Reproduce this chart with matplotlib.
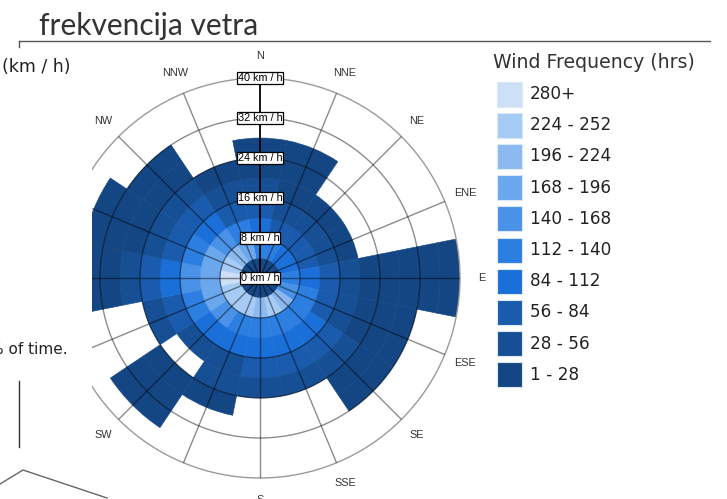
import numpy as np
import matplotlib
matplotlib.use("Agg")
import matplotlib.pyplot as plt
from matplotlib.patches import Rectangle

# ---------------- data ----------------
directions = ["N", "NNE", "NE", "ENE", "E", "ESE", "SE", "SSE",
              "S", "SSW", "SW", "WSW", "W", "WNW", "NW", "NNW"]
speed_edges = [0, 4, 8, 12, 16, 20, 24, 28, 32, 36, 40]   # km/h
ring_ticks = [0, 8, 16, 24, 32, 40]

# hours per speed bin (0-4, 4-8, ..., 36-40) for each direction
hrs_N   = [14, 126,  98,  70,  42,  14,  14,   0,   0,   0]
hrs_NNE = [14, 126,  70,  42,  14,  14,  14,   0,   0,   0]
hrs_NE  = [14,  98,  70,  42,  14,   0,   0,   0,   0,   0]
hrs_ENE = [14,  98,  70,  42,  14,   0,   0,   0,   0,   0]
hrs_E   = [14, 126,  98,  70,  42,  14,  14,  14,  14,  14]
hrs_ESE = [14, 154, 126,  70,  42,  14,  14,  14,   0,   0]
hrs_SE  = [14, 210, 126,  98,  70,  42,  14,  14,   0,   0]
hrs_SSE = [14, 238, 126,  98,  70,  42,   0,   0,   0,   0]
hrs_S   = [14, 210, 126,  98,  70,  42,   0,   0,   0,   0]
hrs_SSW = [14, 238, 126,  98,  42,  42,  14,   0,   0,   0]
hrs_SW  = [14, 238, 154,  98,  42,   0,  14,  14,  14,   0]
hrs_WSW = [14, 238, 182, 126,  70,  42,   0,   0,   0,   0]
hrs_W   = [14, 300, 182, 154,  98,  70,  42,  14,  14,   0]
hrs_WNW = [14, 238, 182, 126,  70,  42,  14,  14,  14,   0]
hrs_NW  = [14, 210, 154,  98,  70,  42,  14,  14,   0,   0]
hrs_NNW = [14, 182, 126,  70,  42,  14,   0,   0,   0,   0]

hours = [hrs_N, hrs_NNE, hrs_NE, hrs_ENE, hrs_E, hrs_ESE, hrs_SE, hrs_SSE,
         hrs_S, hrs_SSW, hrs_SW, hrs_WSW, hrs_W, hrs_WNW, hrs_NW, hrs_NNW]

class_labels = ["1 - 28", "28 - 56", "56 - 84", "84 - 112", "112 - 140",
                "140 - 168", "168 - 196", "196 - 224", "224 - 252", "280+"]
class_bounds = [28, 56, 84, 112, 140, 168, 196, 224, 252]
class_colors = ["#144683", "#174f95", "#1a5bad", "#1b6fd8", "#2c7fe1",
                "#4a92e7", "#6aa7ec", "#8cb9ef", "#a6cbf5", "#cde0f6"]

# ---------------- figure ----------------
W, H = 727, 499
fig = plt.figure(figsize=(W / 100, H / 100), dpi=100)
fig.patch.set_facecolor("white")

cx, cy, R = 260, 278, 200
ax = fig.add_axes([(cx - R) / W, (H - cy - R) / H, 2 * R / W, 2 * R / H],
                  projection="polar")
ax.set_theta_zero_location("N")
ax.set_theta_direction(-1)
ax.set_ylim(0, 40)
ax.set_xticks([])
ax.set_yticks([])
ax.grid(False)
ax.spines["polar"].set_color("#9a9a9a")
ax.spines["polar"].set_linewidth(1.0)

n = len(directions)
width = 2 * np.pi / n
for i, d in enumerate(directions):
    th = i * width
    for j, h in enumerate(hours[i]):
        if h <= 0:
            continue
        k = int(np.digitize(h, class_bounds))
        c = class_colors[k]
        ax.bar(th, speed_edges[j + 1] - speed_edges[j], width=width,
               bottom=speed_edges[j], color=c, edgecolor=c, linewidth=0.4,
               align="center", zorder=1)

# grid rings and spokes
tt = np.linspace(0, 2 * np.pi, 500)
for r in ring_ticks[1:-1]:
    ax.plot(tt, np.full_like(tt, r), color="black", alpha=0.45, lw=1.0, zorder=3)
for i in range(1, n):
    ax.plot([i * width, i * width], [0, 40], color="black", alpha=0.45,
            lw=1.0, zorder=3)
ax.plot([0, 0], [0, 40], color="black", lw=1.3, zorder=4)

for r in ring_ticks:
    ax.text(0, r, f"{r} km / h", ha="center", va="center", fontsize=7.8,
            family="Liberation Sans", color="black", zorder=6,
            bbox=dict(boxstyle="square,pad=0.1", fc="white", ec="black", lw=0.9))

for i, d in enumerate(directions):
    if d == "SSW":
        continue
    ax.text(i * width, 44.4, d, ha="center", va="center", fontsize=7.8,
            family="Liberation Sans", color="#333333")

# ---------------- overlay (pixel coordinates) ----------------
ov = fig.add_axes([0, 0, 1, 1], zorder=10)
ov.set_xlim(0, W)
ov.set_ylim(H, 0)
ov.axis("off")
ov.patch.set_alpha(0)

ov.add_patch(Rectangle((0, 41), 92, H - 41, facecolor="white",
                       edgecolor="none", zorder=1))

ov.text(39, 35, "frekvencija vetra", fontsize=21.5, family="Lato",
        color="#333333", ha="left", va="baseline", zorder=5)
ov.plot([19, 710], [40.5, 40.5], color="#555555", lw=1.0, zorder=5)
ov.plot([19, 19], [40.5, 47], color="#555555", lw=1.0, zorder=5)

ov.text(2, 67, "(km / h)", fontsize=12.5, family="DejaVu Sans",
        color="#222222", ha="left", va="center", zorder=5)
ov.text(68, 350, "% of time.", fontsize=11, family="DejaVu Sans",
        color="#222222", ha="right", va="center", zorder=5)
ov.plot([19, 19], [381, 447], color="#333333", lw=1.0, zorder=5)
ov.plot([0, 23, 107], [484, 470, 498], color="#666666", lw=1.0, zorder=5)

# legend
ov.text(493, 62, "Wind Frequency (hrs)", fontsize=13.6, family="DejaVu Sans",
        color="#333333", ha="left", va="center", zorder=5)
for idx, k in enumerate(range(len(class_labels) - 1, -1, -1)):
    yc = 94 + idx * 31.2
    ov.add_patch(Rectangle((497, yc - 12.5), 25, 25, facecolor=class_colors[k],
                           edgecolor="#dbe8f7", lw=0.8, zorder=5))
    ov.text(530, yc, class_labels[k], fontsize=12.2, family="DejaVu Sans",
            color="#222222", ha="left", va="center", zorder=5)

fig.savefig("out.png", dpi=100, facecolor="white")
